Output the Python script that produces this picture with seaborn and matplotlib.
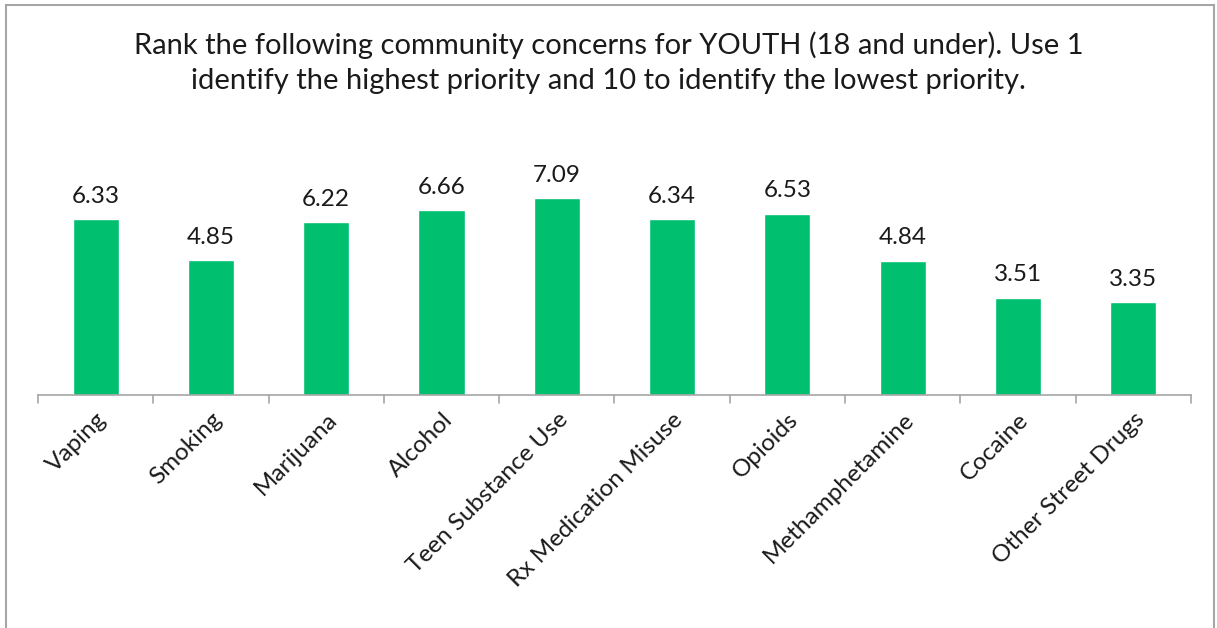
import matplotlib
matplotlib.use("Agg")
import matplotlib.pyplot as plt
from matplotlib.patches import Rectangle
import pandas as pd
import seaborn as sns

categories = ["Vaping", "Smoking", "Marijuana", "Alcohol", "Teen Substance Use",
              "Rx Medication Misuse", "Opioids", "Methamphetamine", "Cocaine",
              "Other Street Drugs"]
scores = [6.33, 4.85, 6.22, 6.66, 7.09, 6.34, 6.53, 4.84, 3.51, 3.35]
title = ("Rank the following community concerns for YOUTH (18 and under). Use 1\n"
         "identify the highest priority and 10 to identify the lowest priority.")

sns.set_style("white")
plt.rcParams['font.family'] = ['Lato', 'DejaVu Sans']

df = pd.DataFrame({"concern": categories, "score": scores})

fig = plt.figure(figsize=(12.17, 6.28), dpi=100)
ax = fig.add_axes([0.0312, 0.371, 0.9474, 0.3535])

sns.barplot(data=df, x="concern", y="score", color="#00BF6F", width=0.4,
            saturation=1, ax=ax)
ax.set_ylim(0, 8)
ax.set_xlim(-0.5, len(categories) - 0.5)

# value labels above bars
for i, v in enumerate(scores):
    ax.text(i, v + 0.45, f"{v:.2f}", ha="center", va="bottom", fontsize=17.5,
            color="#1a1a1a", clip_on=False)

ax.set_xlabel("")
ax.set_ylabel("")
ax.set_yticks([])
ax.set_xticks(range(len(categories)))
ax.set_xticklabels(categories, rotation=45, ha="right", rotation_mode="anchor",
                   fontsize=17.5, color="#1a1a1a")
ax.tick_params(axis="x", length=0, pad=10)

# category boundary ticks, Excel style
for b in [i - 0.5 for i in range(len(categories) + 1)]:
    ax.plot([b, b], [0, -0.28], color="#a6a6a6", lw=1.2, clip_on=False)

for s in ["top", "right", "left"]:
    ax.spines[s].set_visible(False)
ax.spines["bottom"].set_color("#a6a6a6")
ax.spines["bottom"].set_linewidth(1.2)

fig.text(0.5, 0.95, title, ha="center", va="top", fontsize=21,
         color="#1a1a1a", linespacing=1.45)

# outer chart frame (bottom edge is cut off in the reference)
fig.patches.append(Rectangle((6 / 1217, -0.05), (1214 - 6) / 1217, 1.05 - 5 / 628,
                             transform=fig.transFigure, fill=False,
                             edgecolor="#a6a6a6", lw=1.5))

fig.savefig("out.png", dpi=100)
